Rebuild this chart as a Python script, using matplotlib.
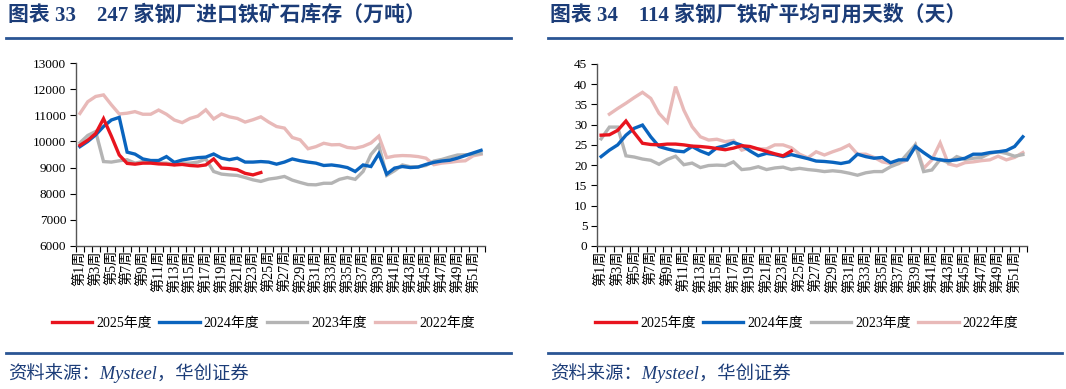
import matplotlib
matplotlib.use("Agg")
import matplotlib.pyplot as plt
import numpy as np

plt.rcParams['font.family'] = ['Liberation Serif', 'Noto Sans CJK SC']

weeks = list(range(1, 53))
week_labels = [f"第{w}周" for w in weeks]
years = ["2025年度", "2024年度", "2023年度", "2022年度"]

# 247家钢厂进口铁矿石库存（万吨）
stock_2025 = [9850, 10050, 10300, 10870, 10200, 9480, 9160, 9130, 9170, 9170, 9140, 9130,
              9100, 9120, 9080, 9060, 9100, 9330, 8980, 8960, 8920, 8780, 8720, 8810]
stock_2024 = [9800, 10000, 10250, 10570, 10820, 10920, 9590, 9515, 9330, 9270, 9270, 9420,
              9200, 9290, 9340, 9380, 9400, 9520, 9360, 9300, 9360, 9210, 9210, 9230,
              9210, 9130, 9210, 9330, 9260, 9210, 9170, 9080, 9100, 9060, 9000, 8850,
              9100, 9040, 9530, 8750, 8980, 9040, 9000, 9020, 9120, 9200, 9250, 9280,
              9360, 9460, 9560, 9660]
stock_2023 = [9950, 10230, 10380, 9230, 9210, 9260, 9300, 9170, 9230, 9210, 9170, 9170,
              9110, 9170, 9170, 9210, 9330, 8850, 8750, 8720, 8700, 8620, 8530, 8470,
              8560, 8600, 8660, 8520, 8430, 8350, 8340, 8400, 8400, 8550, 8620, 8550,
              8850, 9500, 9850, 8700, 8880, 9100, 9030, 9030, 9080, 9250, 9310, 9400,
              9480, 9490, 9510, 9540]
stock_2022 = [11070, 11520, 11720, 11780, 11400, 11050, 11080, 11140, 11040, 11040, 11200, 11040,
              10820, 10720, 10880, 10970, 11210, 10860, 11050, 10940, 10880, 10740, 10830, 10940,
              10740, 10570, 10510, 10150, 10060, 9720, 9800, 9930, 9870, 9880, 9770, 9740,
              9810, 9940, 10200, 9380, 9440, 9460, 9450, 9420, 9360, 9110, 9170, 9200,
              9240, 9260, 9450, 9510]

# 114家钢厂铁矿平均可用天数（天）
days_2025 = [27.4, 27.5, 28.6, 30.9, 28.0, 25.4, 25.1, 25.0, 25.2, 25.2, 25.0, 24.7,
             24.6, 24.4, 24.1, 23.8, 24.2, 24.8, 24.6, 24.0, 23.4, 22.8, 22.3, 23.5]
days_2024 = [22.1, 23.7, 25.0, 27.4, 29.1, 29.9, 27.0, 24.6, 24.0, 23.5, 23.3, 24.6,
             23.5, 22.7, 24.3, 24.8, 25.6, 24.9, 23.5, 22.3, 22.9, 22.6, 22.1, 22.6,
             22.1, 21.6, 21.0, 20.9, 20.7, 20.4, 20.8, 22.7, 22.1, 21.7, 21.9, 20.6,
             21.3, 21.3, 24.6, 23.1, 21.7, 21.3, 21.1, 21.3, 21.7, 22.7, 22.7, 23.1,
             23.3, 23.6, 24.6, 27.0]
days_2023 = [26.5, 29.4, 29.4, 22.3, 22.0, 21.5, 21.2, 20.2, 21.4, 22.2, 20.1, 20.5,
             19.4, 19.9, 20.0, 19.9, 20.8, 18.9, 19.1, 19.6, 18.9, 19.3, 19.5, 18.9,
             19.2, 18.9, 18.7, 18.4, 18.6, 18.4, 18.0, 17.5, 18.1, 18.4, 18.4, 19.6,
             20.4, 22.7, 25.0, 18.4, 18.8, 21.4, 20.6, 22.1, 21.4, 21.7, 21.9, 22.9,
             23.3, 22.9, 22.2, 22.6]
days_2022 = [np.nan, 32.6, 34.0, 35.3, 36.7, 38.0, 36.5, 32.8, 30.6, 39.4, 33.6, 29.5,
             27.0, 26.2, 26.4, 25.8, 26.1, 23.7, 24.3, 24.0, 24.0, 25.0, 25.0, 24.3,
             22.7, 21.8, 23.3, 22.5, 23.3, 24.0, 25.0, 22.7, 22.7, 21.9, 20.8, 20.4,
             20.4, 21.3, 25.0, 19.2, 21.3, 25.5, 20.3, 19.8, 20.6, 20.8, 21.1, 21.3,
             22.2, 21.3, 21.9, 23.1]

colors = ["#E8141E", "#0A64BE", "#B4B4B4", "#E8B9B8"]
title_color = "#1B3C78"
rule_color = "#2A5594"

fig = plt.figure(figsize=(10.66, 3.89), dpi=100)


def draw_panel(rect, series, ylim, ystep, title, x0, x1, legend_x):
    ax = fig.add_axes(rect)
    # 2022 drawn first so the newer years sit on top
    for s, c, name in reversed(list(zip(series, colors, years))):
        ax.plot(weeks[:len(s)], s, color=c, lw=2.4, label=name, solid_joinstyle='miter')
    ax.set_xlim(0.5, 52.5)
    ax.set_ylim(*ylim)
    ax.set_yticks(np.arange(ylim[0], ylim[1] + ystep / 2, ystep))
    ax.tick_params(axis='y', labelsize=9.5, length=4, width=0.8, direction='out', pad=3)
    # tick marks between categories, labels on odd weeks
    ax.set_xticks(np.arange(0.5, 53, 1))
    ax.set_xticklabels([])
    ax.tick_params(axis='x', which='major', length=4, width=0.8, direction='out')
    ax.set_xticks(weeks[::2], minor=True)
    ax.set_xticklabels(week_labels[::2], minor=True, rotation=90, fontsize=10.2)
    ax.tick_params(axis='x', which='minor', length=0, pad=3)
    for side in ['top', 'right']:
        ax.spines[side].set_visible(False)
    for side in ['left', 'bottom']:
        ax.spines[side].set_color('#555555')
        ax.spines[side].set_linewidth(1.0)

    handles, labels = ax.get_legend_handles_labels()
    fig.legend(handles[::-1], labels[::-1], loc='center', ncol=4, frameon=False,
               bbox_to_anchor=(legend_x, 0.168), fontsize=10, handlelength=2.9,
               handletextpad=0.3, columnspacing=0.55)

    fig.text(x0 / 1066, 1 - 15 / 389, title, fontsize=15, fontweight='bold',
             color=title_color, va='center', ha='left')
    fig.add_artist(plt.Line2D([x0 / 1066 - 0.002, x1 / 1066], [1 - 38 / 389] * 2,
                              color=rule_color, lw=2))
    fig.add_artist(plt.Line2D([x0 / 1066 - 0.002, x1 / 1066], [1 - 353 / 389] * 2,
                              color=rule_color, lw=2))
    fig.text(x0 / 1066, 1 - 373 / 389, "资料来源：Mysteel，华创证券", fontsize=13.2,
             style='italic', color=title_color, va='center', ha='left')
    return ax


draw_panel([76 / 1066, 1 - 246 / 389, 409 / 1066, 183 / 389],
           [stock_2025, stock_2024, stock_2023, stock_2022], (6000, 13000), 1000,
           "图表 33    247 家钢厂进口铁矿石库存（万吨）", 8, 511, 0.247)
draw_panel([597 / 1066, 1 - 246 / 389, 430 / 1066, 182 / 389],
           [days_2025, days_2024, days_2023, days_2022], (0, 45), 5,
           "图表 34    114 家钢厂铁矿平均可用天数（天）", 550, 1062, 0.757)

fig.savefig("out.png", dpi=100)
